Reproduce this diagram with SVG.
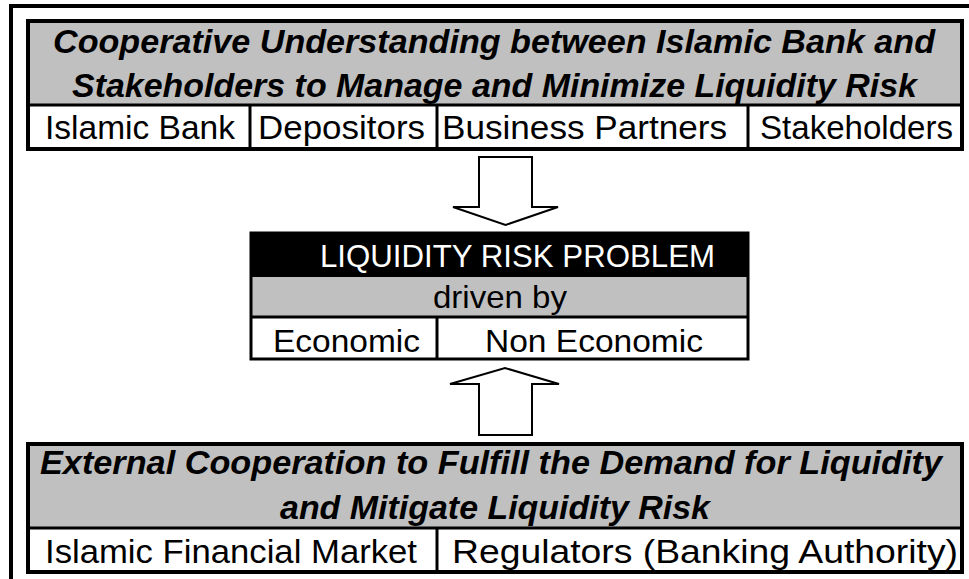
<svg xmlns="http://www.w3.org/2000/svg" width="969" height="579" viewBox="0 0 969 579">
<style>
.frame{fill:none;stroke:#000;stroke-width:4}
.box{fill:none;stroke:#000;stroke-width:4}
.div{stroke:#000;stroke-width:3}
.grey{fill:#c0c0c0}
.white{fill:#fff}
.title{font-family:"Liberation Sans",Arial,sans-serif;font-weight:bold;font-style:italic;font-size:33px;fill:#000;text-anchor:middle}
.cell{font-family:"Liberation Sans",Arial,sans-serif;font-size:34px;fill:#000;text-anchor:middle}
.mid{font-family:"Liberation Sans",Arial,sans-serif;font-size:32px;fill:#000;text-anchor:middle}
.inv{fill:#fff}
.arrow{fill:#fff;stroke:#000;stroke-width:2;stroke-linejoin:miter}
</style>
<rect x="0" y="0" width="969" height="579" fill="#fff"/>
<rect class="frame" x="11" y="6" width="975" height="590"/>

<g id="top-box">
  <rect class="grey" x="28" y="21" width="934" height="84"/>
  <rect class="white" x="28" y="105" width="934" height="44"/>
  <line class="div" x1="28" y1="105" x2="962" y2="105"/>
  <line class="div" x1="250" y1="105" x2="250" y2="149"/>
  <line class="div" x1="437" y1="105" x2="437" y2="149"/>
  <line class="div" x1="748" y1="105" x2="748" y2="149"/>
  <rect class="box" x="28" y="21" width="934" height="128"/>
  <text class="title" x="494" y="53" textLength="882" lengthAdjust="spacingAndGlyphs">Cooperative Understanding between Islamic Bank and</text>
  <text class="title" x="494.5" y="97" textLength="845" lengthAdjust="spacingAndGlyphs">Stakeholders to Manage and Minimize Liquidity Risk</text>
  <text class="cell" x="140" y="139" textLength="190" lengthAdjust="spacingAndGlyphs">Islamic Bank</text>
  <text class="cell" x="341.5" y="139" textLength="167" lengthAdjust="spacingAndGlyphs">Depositors</text>
  <text class="cell" x="584.5" y="139" textLength="285" lengthAdjust="spacingAndGlyphs">Business Partners</text>
  <text class="cell" x="856.5" y="139" textLength="193" lengthAdjust="spacingAndGlyphs">Stakeholders</text>
</g>

<g id="middle-box">
  <rect x="251" y="233" width="497" height="44" fill="#000"/>
  <rect class="grey" x="251" y="277" width="497" height="40"/>
  <rect class="white" x="251" y="317" width="497" height="42"/>
  <line class="div" x1="251" y1="317" x2="748" y2="317"/>
  <line class="div" x1="437" y1="317" x2="437" y2="359"/>
  <rect x="251" y="233" width="497" height="126" fill="none" stroke="#000" stroke-width="3"/>
  <text class="mid inv" x="517.5" y="267" textLength="395" lengthAdjust="spacingAndGlyphs">LIQUIDITY RISK PROBLEM</text>
  <text class="mid" x="500" y="308" textLength="134" lengthAdjust="spacingAndGlyphs">driven by</text>
  <text class="mid" x="346.5" y="352" textLength="147" lengthAdjust="spacingAndGlyphs">Economic</text>
  <text class="mid" x="594" y="352" textLength="218" lengthAdjust="spacingAndGlyphs">Non Economic</text>
</g>

<g id="bottom-box">
  <rect class="grey" x="28" y="444" width="934" height="84"/>
  <rect class="white" x="28" y="528" width="934" height="44"/>
  <line class="div" x1="28" y1="528" x2="962" y2="528"/>
  <line class="div" x1="437" y1="528" x2="437" y2="572"/>
  <rect class="box" x="28" y="444" width="934" height="128"/>
  <text class="title" x="491" y="474" textLength="902" lengthAdjust="spacingAndGlyphs">External Cooperation to Fulfill the Demand for Liquidity</text>
  <text class="title" x="495" y="519" textLength="430" lengthAdjust="spacingAndGlyphs">and Mitigate Liquidity Risk</text>
  <text class="cell" x="231" y="563" textLength="372" lengthAdjust="spacingAndGlyphs">Islamic Financial Market</text>
  <text class="cell" x="705" y="563" textLength="506" lengthAdjust="spacingAndGlyphs">Regulators (Banking Authority)</text>
</g>

<g id="connectors">
  <polygon class="arrow" points="479,157 532,157 532,207 558,207 505.5,225 453,207 479,207"/>
  <polygon class="arrow" points="479,435 532,435 532,384 559,384 505,368 450,384 479,384"/>
</g>
</svg>
